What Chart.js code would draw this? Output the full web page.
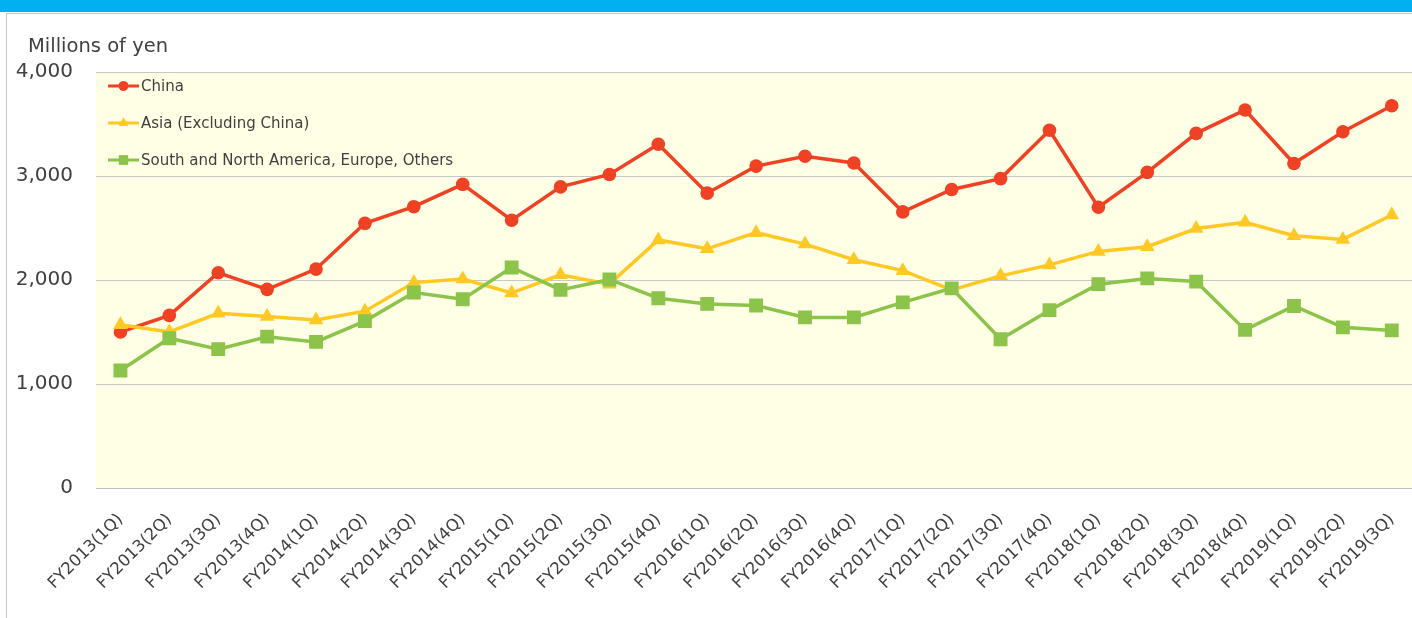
<!DOCTYPE html>
<html>
<head>
<meta charset="utf-8">
<script src="https://cdn.jsdelivr.net/npm/chart.js@4.4.1/dist/chart.umd.min.js"></script>
<style>
  html, body { margin: 0; padding: 0; background: #fff; overflow: hidden; width: 1412px; height: 618px; }
  .topbar { position: absolute; left: 0; top: 0; width: 1412px; height: 12px; background: #00b0f0; }
  .frame { position: absolute; left: 6px; top: 13px; width: 1420px; height: 620px; border: 1px solid #c8c8c8; }
  #wrap { position: absolute; left: 0; top: 0; width: 1426px; height: 618px; }
</style>
</head>
<body>
<div class="topbar"></div>
<div class="frame"></div>
<div id="wrap"><canvas id="chart" width="1426" height="618"></canvas></div>
<script>
// Quarterly sales by region (millions of yen)
const quarters = [
  'FY2013(1Q)', 'FY2013(2Q)', 'FY2013(3Q)', 'FY2013(4Q)',
  'FY2014(1Q)', 'FY2014(2Q)', 'FY2014(3Q)', 'FY2014(4Q)',
  'FY2015(1Q)', 'FY2015(2Q)', 'FY2015(3Q)', 'FY2015(4Q)',
  'FY2016(1Q)', 'FY2016(2Q)', 'FY2016(3Q)', 'FY2016(4Q)',
  'FY2017(1Q)', 'FY2017(2Q)', 'FY2017(3Q)', 'FY2017(4Q)',
  'FY2018(1Q)', 'FY2018(2Q)', 'FY2018(3Q)', 'FY2018(4Q)',
  'FY2019(1Q)', 'FY2019(2Q)', 'FY2019(3Q)'
];
const china = [1500, 1660, 2070, 1910, 2105, 2545, 2705, 2920, 2575, 2895, 3015, 3305, 2835, 3095, 3190, 3125, 2655, 2870, 2975, 3440, 2700, 3035, 3410, 3635, 3120, 3425, 3675];
const asia = [1570, 1500, 1680, 1650, 1615, 1700, 1975, 2010, 1875, 2050, 1960, 2385, 2300, 2455, 2345, 2195, 2090, 1905, 2040, 2145, 2275, 2320, 2495, 2555, 2425, 2390, 2625];
const others = [1130, 1440, 1335, 1455, 1405, 1605, 1880, 1815, 2120, 1905, 2005, 1825, 1770, 1755, 1640, 1640, 1785, 1920, 1430, 1710, 1960, 2015, 1985, 1520, 1750, 1545, 1515];
const yTicks = [0, 1000, 2000, 3000, 4000];
const unitLabel = 'Millions of yen';

const textColor = '#404040';
const font = 'DejaVu Sans';

// plot background + axis title
const backdrop = {
  id: 'backdrop',
  beforeDraw(chart) {
    const { ctx, chartArea: a } = chart;
    ctx.save();
    ctx.fillStyle = '#ffffe5';
    ctx.fillRect(a.left, a.top, a.right - a.left, a.bottom - a.top);
    ctx.fillStyle = textColor;
    ctx.font = '19.5px "' + font + '"';
    ctx.textBaseline = 'alphabetic';
    ctx.fillText(unitLabel, 28, 52);
    ctx.restore();
  }
};

// legend drawn inside the plot, line + marker like the original
const innerLegend = {
  id: 'innerLegend',
  afterDraw(chart) {
    const { ctx } = chart;
    const sizes = { circle: 4.8, triangle: 5.5, rect: 6.5 };
    chart.data.datasets.forEach((ds, i) => {
      const y = 86 + i * 37;
      ctx.save();
      ctx.strokeStyle = ds.borderColor;
      ctx.lineWidth = 3;
      ctx.beginPath();
      ctx.moveTo(108, y);
      ctx.lineTo(139, y);
      ctx.stroke();
      ctx.fillStyle = ds.borderColor;
      Chart.helpers.drawPoint(ctx, { pointStyle: ds.pointStyle, radius: sizes[ds.pointStyle], borderWidth: 0, rotation: 0 }, 123.5, y);
      ctx.fill();
      ctx.fillStyle = textColor;
      ctx.font = '15px "' + font + '"';
      ctx.textBaseline = 'middle';
      ctx.fillText(ds.label, 141, y + 1);
      ctx.restore();
    });
  }
};

const ctx = document.getElementById('chart').getContext('2d');
new Chart(ctx, {
  type: 'line',
  data: {
    labels: quarters,
    datasets: [{
      label: 'China',
      data: china,
      borderColor: '#ef4123',
      backgroundColor: '#ef4123',
      borderWidth: 3.5,
      pointStyle: 'circle',
      pointRadius: 6.8,
      pointBorderWidth: 0,
      tension: 0,
      order: 3
    }, {
      label: 'Asia (Excluding China)',
      data: asia,
      borderColor: '#ffc824',
      backgroundColor: '#ffc824',
      borderWidth: 3.5,
      pointStyle: 'triangle',
      pointRadius: 8.5,
      pointBorderWidth: 0,
      tension: 0,
      order: 2
    }, {
      label: 'South and North America, Europe, Others',
      data: others,
      borderColor: '#8cc34a',
      backgroundColor: '#8cc34a',
      borderWidth: 3.5,
      pointStyle: 'rect',
      pointRadius: 9.8,
      pointBorderWidth: 0,
      tension: 0,
      order: 1
    }]
  },
  options: {
    responsive: false,
    animation: false,
    devicePixelRatio: 1,
    layout: { padding: { top: 72, left: 0, right: 0, bottom: 0 } },
    plugins: {
      legend: { display: false },
      tooltip: { enabled: false }
    },
    scales: {
      x: {
        offset: true,
        afterFit: s => { s.height = 130; s.paddingLeft = 0; s.paddingRight = 0; },
        grid: { display: false, drawTicks: false },
        border: { display: true, color: '#bdbdbd', width: 1 },
        ticks: {
          autoSkip: false,
          maxRotation: 45,
          minRotation: 45,
          padding: 22,
          color: textColor,
          font: { family: font, size: 16.5 }
        }
      },
      y: {
        min: 0,
        max: 4000,
        afterFit: s => { s.width = 96; s.paddingTop = 0; s.paddingBottom = 0; },
        afterBuildTicks: s => { s.ticks = yTicks.map(v => ({ value: v })); },
        grid: { color: '#c8c8c8', lineWidth: 1, drawTicks: false },
        border: { display: false },
        ticks: {
          padding: 23,
          color: textColor,
          font: { family: font, size: 20 },
          callback: v => v.toLocaleString('en-US')
        }
      }
    }
  },
  plugins: [backdrop, innerLegend]
});
</script>
</body>
</html>
